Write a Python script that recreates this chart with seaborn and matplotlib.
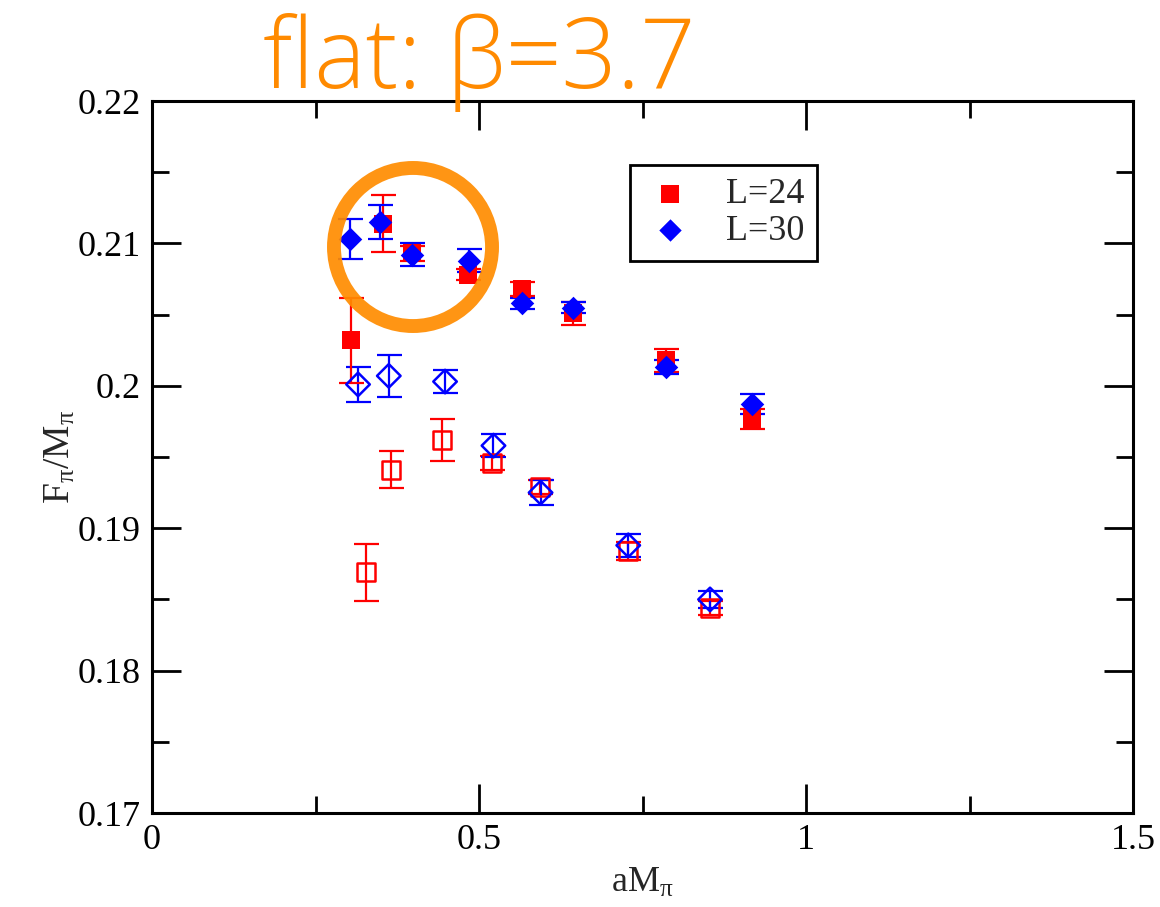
import seaborn as sns
import matplotlib.pyplot as plt
import pandas as pd
from matplotlib.patches import Ellipse

# L=24, filled squares
x24_full = [0.304, 0.353, 0.398, 0.483, 0.566, 0.644, 0.786, 0.917]
y24_full = [0.2032, 0.2114, 0.2093, 0.2078, 0.2068, 0.2051, 0.2018, 0.1977]
e24_full = [0.0030, 0.0020, 0.0005, 0.0004, 0.0005, 0.0008, 0.0008, 0.0007]

# L=30, filled diamonds
x30_full = [0.303, 0.349, 0.398, 0.485, 0.565, 0.644, 0.786, 0.917]
y30_full = [0.2103, 0.2115, 0.2092, 0.2088, 0.2058, 0.2055, 0.2013, 0.1987]
e30_full = [0.0014, 0.0012, 0.0008, 0.0008, 0.0004, 0.0004, 0.0005, 0.0007]

# L=24, open squares
x24_open = [0.327, 0.365, 0.444, 0.520, 0.593, 0.728, 0.853]
y24_open = [0.1869, 0.1941, 0.1962, 0.1946, 0.1929, 0.1884, 0.1844]
e24_open = [0.0020, 0.0013, 0.0015, 0.0005, 0.0005, 0.0006, 0.0005]

# L=30, open diamonds
x30_open = [0.315, 0.362, 0.448, 0.522, 0.594, 0.728, 0.853]
y30_open = [0.2001, 0.2007, 0.2003, 0.1958, 0.1925, 0.1888, 0.1850]
e30_open = [0.0012, 0.0015, 0.0008, 0.0008, 0.0009, 0.0008, 0.0006]

sns.set_style('white')
plt.rcParams['font.family'] = ['Liberation Serif', 'DejaVu Serif']
plt.rcParams['mathtext.fontset'] = 'custom'
plt.rcParams['mathtext.rm'] = 'Liberation Serif'
plt.rcParams['mathtext.it'] = 'Liberation Serif'

fig = plt.figure(figsize=(11.6, 9.07), dpi=100)
ax = fig.add_axes([0.131, 0.1036, 0.846, 0.785])

groups = [
    (x24_open, y24_open, e24_open, 's', 'red', False, 13, None),
    (x30_open, y30_open, e30_open, 'D', 'blue', False, 12, None),
    (x24_full, y24_full, e24_full, 's', 'red', True, 13, 'L=24'),
    (x30_full, y30_full, e30_full, 'D', 'blue', True, 12, 'L=30'),
]

for xs, ys, es, mk, col, filled, ms, lab in groups:
    ax.errorbar(xs, ys, yerr=es, fmt='none', ecolor=col, elinewidth=1.6,
                capsize=9, capthick=1.6, zorder=2)
    df = pd.DataFrame({'x': xs, 'y': ys})
    if filled:
        sns.scatterplot(data=df, x='x', y='y', marker=mk, s=ms ** 2,
                        color=col, edgecolor=col, linewidth=0, label=lab,
                        ax=ax, zorder=3)
    else:
        ax.scatter(df['x'], df['y'], marker=mk, s=ms ** 2, facecolors='none',
                   edgecolors=col, linewidths=1.8, zorder=3)

ax.set_xlim(0, 1.5)
ax.set_ylim(0.17, 0.22)
ax.set_xticks([0, 0.5, 1, 1.5])
ax.set_xticklabels(['0', '0.5', '1', '1.5'])
ax.set_xticks([0.25, 0.75, 1.25], minor=True)
ax.set_yticks([0.17, 0.18, 0.19, 0.2, 0.21, 0.22])
ax.set_yticklabels(['0.17', '0.18', '0.19', '0.2', '0.21', '0.22'])
ax.set_yticks([0.175, 0.185, 0.195, 0.205, 0.215], minor=True)
ax.tick_params(which='both', direction='in', top=True, right=True,
               bottom=True, left=True, width=2, labelsize=26,
               colors='black', pad=8)
ax.tick_params(which='major', length=21)
ax.tick_params(which='minor', length=12)
for sp in ax.spines.values():
    sp.set_linewidth(2.2)
    sp.set_color('black')

ax.set_xlabel(r'aM$_\pi$', fontsize=26, labelpad=7)
ax.set_ylabel(r'F$_\pi$/M$_\pi$', fontsize=27, labelpad=0)

leg = ax.legend(loc='upper right', bbox_to_anchor=(0.678, 0.91), fontsize=26,
                frameon=True, fancybox=False, edgecolor='black',
                borderpad=0.35, handlelength=1.5, handletextpad=0.8,
                labelspacing=0.1, borderaxespad=0, markerscale=0.95)
leg.get_frame().set_linewidth(2)
leg.get_frame().set_alpha(1)

ring = Ellipse((0.399, 0.20975), width=0.2416, height=0.0111, fill=False,
               edgecolor='#FF8C00', linewidth=10, alpha=0.92, zorder=4)
ax.add_patch(ring)

fig.text(0.413, 0.903, 'flat: β=3.7', color='#FF8A00', fontsize=70,
         family=['Open Sans', 'DejaVu Sans'], fontweight='light',
         ha='center', va='baseline')

plt.savefig('out.png', dpi=100)
plt.close()
